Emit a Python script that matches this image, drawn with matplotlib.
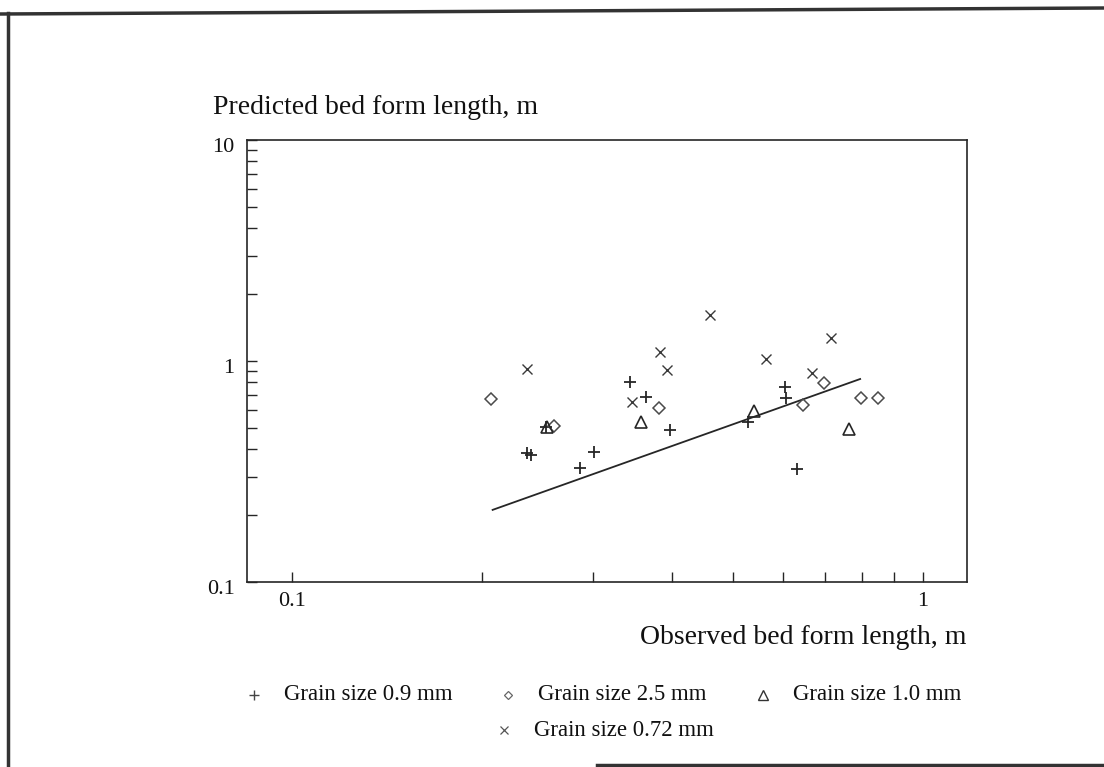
import matplotlib
matplotlib.use("Agg")
import matplotlib.pyplot as plt
import matplotlib.transforms as mtransforms
from matplotlib.ticker import FixedLocator, NullFormatter

plt.rcParams["font.family"] = ["Liberation Serif", "DejaVu Serif"]

# observed / predicted bed form lengths (m) per grain size
obs_09 = [0.343, 0.364, 0.397, 0.236, 0.239, 0.301, 0.286, 0.253, 0.528, 0.604, 0.606, 0.631]
pred_09 = [0.803, 0.687, 0.487, 0.382, 0.375, 0.388, 0.328, 0.503, 0.530, 0.763, 0.680, 0.325]

obs_25 = [0.207, 0.260, 0.382, 0.645, 0.697, 0.797, 0.849]
pred_25 = [0.673, 0.508, 0.613, 0.632, 0.795, 0.680, 0.680]

obs_10 = [0.254, 0.357, 0.540, 0.763]
pred_10 = [0.503, 0.530, 0.594, 0.492]

obs_072 = [0.236, 0.460, 0.383, 0.393, 0.346, 0.564, 0.667, 0.715]
pred_072 = [0.920, 1.615, 1.098, 0.911, 0.652, 1.020, 0.882, 1.271]

# reference line
line_x = [0.208, 0.795]
line_y = [0.212, 0.829]

ink = "#262626"
W, H = 1104, 767

fig = plt.figure(figsize=(W / 100, H / 100), dpi=100)
ax = fig.add_axes([247 / W, 1 - 582 / H, (967 - 247) / W, (582 - 140) / H])
ax.set_xscale("log")
ax.set_yscale("log")
ax.set_xlim(0.0849, 1.174)
ax.set_ylim(0.1, 10)

ax.plot(line_x, line_y, color=ink, lw=1.3)
ax.plot(obs_09, pred_09, ls="none", marker="+", ms=8, mew=1.3, color=ink)
ax.plot(obs_25, pred_25, ls="none", marker="D", ms=6, mew=1.1, mfc="none", mec="#4a4a4a")
ax.plot(obs_10, pred_10, ls="none", marker="^", ms=9, mew=1.2, mfc="none", mec=ink)
ax.plot(obs_072, pred_072, ls="none", marker="x", ms=7, mew=1.0, color="#3a3a3a")

for s in ax.spines.values():
    s.set_color(ink)
    s.set_linewidth(1.2)

ax.xaxis.set_major_locator(FixedLocator([0.1, 1]))
ax.xaxis.set_minor_locator(FixedLocator([0.2, 0.3, 0.4, 0.5, 0.6, 0.7, 0.8, 0.9]))
ax.yaxis.set_major_locator(FixedLocator([0.1, 1, 10]))
ax.yaxis.set_minor_locator(FixedLocator(
    [0.2, 0.3, 0.4, 0.5, 0.6, 0.7, 0.8, 0.9, 2, 3, 4, 5, 6, 7, 8, 9]))
ax.set_xticklabels(["0.1", "1"])
ax.set_yticklabels(["0.1", "1", "10"])
ax.xaxis.set_minor_formatter(NullFormatter())
ax.yaxis.set_minor_formatter(NullFormatter())
ax.tick_params(which="both", direction="in", length=7.5, width=1.0, color=ink,
               top=False, right=False, labelsize=16, labelcolor="#111111")
ax.tick_params(axis="x", pad=7)
ax.tick_params(axis="y", pad=9)
shift = mtransforms.ScaledTranslation(0, -5 / 100, fig.dpi_scale_trans)
for lab in ax.get_yticklabels():
    lab.set_transform(lab.get_transform() + shift)

fig.text(213 / W, 1 - 107 / H, "Predicted bed form length, m", fontsize=20,
         color="#111111", ha="left", va="center")
fig.text(967 / W, 1 - 637 / H, "Observed bed form length, m", fontsize=20,
         color="#111111", ha="right", va="center")

# key and page frame drawn on a pixel-space overlay
key = fig.add_axes([0, 0, 1, 1], zorder=-1)
key.set_xlim(0, W)
key.set_ylim(H, 0)
key.axis("off")

entries = [
    ("+", dict(ms=7, mew=1.0, color="#444444"), 254, 695, "Grain size 0.9 mm"),
    ("D", dict(ms=4.5, mew=0.9, mfc="none", mec="#666666"), 508, 695, "Grain size 2.5 mm"),
    ("^", dict(ms=7, mew=1.0, mfc="none", mec="#333333"), 763, 695, "Grain size 1.0 mm"),
    ("x", dict(ms=6, mew=0.9, color="#555555"), 504, 730, "Grain size 0.72 mm"),
]
for m, style, mx, my, label in entries:
    key.plot([mx], [my], ls="none", marker=m, **style)
    key.text(mx + 30, my, label, fontsize=16.5, color="#111111", ha="left", va="center")

key.plot([0, W], [14, 8], color="#333333", lw=2.5)
key.plot([8, 8], [13, H], color="#333333", lw=2.5)
key.plot([597, W], [765, 765], color="#333333", lw=2.5)

fig.savefig("out.png", dpi=100)
